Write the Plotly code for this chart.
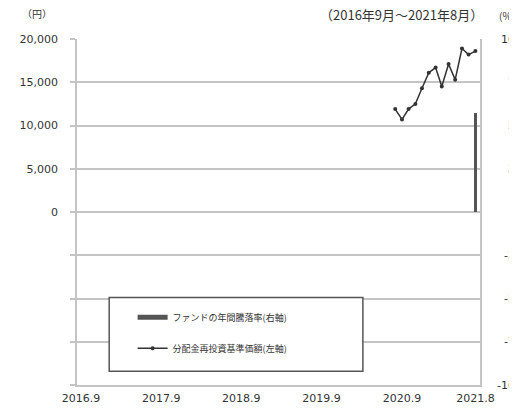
import plotly.graph_objects as go

# ---- data ----
months = ["2020-08-01", "2020-09-01", "2020-10-01", "2020-11-01", "2020-12-01",
          "2021-01-01", "2021-02-01", "2021-03-01", "2021-04-01", "2021-05-01",
          "2021-06-01", "2021-07-01", "2021-08-01"]
nav_reinvested = [11900, 10700, 11900, 12500, 14300, 16100, 16700, 14500,
                  17100, 15300, 18900, 18200, 18600]
bar_dates = ["2021-08-01"]
annual_return = [57]

x_tick_vals = ["2016-09-01", "2017-09-01", "2018-09-01", "2019-09-01", "2020-09-01", "2021-08-01"]
x_tick_text = ["2016.9", "2017.9", "2018.9", "2019.9", "2020.9", "2021.8"]
left_tick_vals = [20000, 15000, 10000, 5000, 0, -5000, -10000, -15000, -20000]
left_tick_text = ["20,000", "15,000", "10,000", "5,000", "0", "", "", "", ""]
right_tick_vals = [100, 75, 50, 25, 0, -25, -50, -75, -100]

name_bar = "ファンドの年間騰落率(右軸)"
name_line = "分配金再投資基準価額(左軸)"

FONT = "DejaVu Sans, Noto Sans CJK JP, sans-serif"
JFONT = "Noto Sans CJK JP, DejaVu Sans, sans-serif"
TXT = "#333333"
GRID = "#c4c4c4"

fig = go.Figure()

fig.add_trace(go.Bar(
    x=bar_dates, y=annual_return, yaxis="y2",
    width=13 * 24 * 3600 * 1000,
    marker=dict(color="#555555", line=dict(width=0)),
    showlegend=False, name=name_bar,
))
# legend proxy for the bar series
fig.add_trace(go.Scatter(
    x=[None], y=[None], mode="lines", name=name_bar,
    line=dict(color="#555555", width=5), legendgroup="a",
))
fig.add_trace(go.Scatter(
    x=months, y=nav_reinvested, mode="lines+markers", name=name_line,
    line=dict(color="#333333", width=1.5),
    marker=dict(size=4, color="#333333"), legendgroup="b",
))

annotations = []
for v in right_tick_vals:
    annotations.append(dict(
        x=1.108, xref="paper", y=v, yref="y2", text=str(v),
        showarrow=False, xanchor="right", yanchor="middle",
        font=dict(family=FONT, size=11, color=TXT)))

annotations += [
    dict(x=-0.141, xref="paper", y=1.047, yref="paper", text="（円）", showarrow=False,
         xanchor="left", yanchor="bottom", font=dict(family=JFONT, size=10, color=TXT)),
    dict(x=1.012, xref="paper", y=1.038, yref="paper", text="（2016年9月～2021年8月）",
         showarrow=False, xanchor="right", yanchor="bottom",
         font=dict(family=JFONT, size=13, color=TXT)),
    dict(x=1.041, xref="paper", y=1.041, yref="paper", text="(%)", showarrow=False,
         xanchor="left", yanchor="bottom", font=dict(family=JFONT, size=10, color=TXT)),
    dict(x=-0.16, xref="paper", y=1.086, yref="paper", text="【設定来の基準価額の推移】",
         showarrow=False, xanchor="left", yanchor="bottom",
         font=dict(family=JFONT, size=14, color="#222222")),
]

fig.update_layout(
    width=509, height=409,
    margin=dict(l=59, r=37, t=31, b=26),
    paper_bgcolor="white", plot_bgcolor="white",
    font=dict(family=FONT, size=11, color=TXT),
    bargap=0,
    xaxis=dict(
        type="date", range=["2016-08-14", "2021-08-22"],
        tickvals=x_tick_vals, ticktext=x_tick_text,
        showgrid=False, zeroline=False,
        showline=True, linecolor=GRID, linewidth=1.5, mirror=False,
        ticks="", ticklabelstandoff=2,
        tickfont=dict(family=FONT, size=11, color=TXT),
    ),
    yaxis=dict(
        range=[-20000, 20000], tickvals=left_tick_vals, ticktext=left_tick_text,
        showgrid=True, gridcolor=GRID, gridwidth=1.5, zeroline=False,
        showline=True, linecolor=GRID, linewidth=1.5,
        ticks="outside", ticklen=5, tickcolor=GRID, tickwidth=1.5,
        ticklabelstandoff=10,
        tickfont=dict(family=FONT, size=11, color=TXT),
    ),
    yaxis2=dict(
        range=[-100, 100], overlaying="y", side="right",
        showgrid=False, zeroline=False, showticklabels=False,
        showline=True, linecolor=GRID, linewidth=1.5, ticks="",
    ),
    shapes=[dict(type="rect", xref="paper", yref="paper",
                 x0=0.0799, x1=0.7094, y0=0.0398, y1=0.2528,
                 line=dict(color="#555555", width=1.5), fillcolor="white", layer="above")],
    legend=dict(
        x=0.138, y=0.238, xanchor="left", yanchor="top",
        bgcolor="rgba(0,0,0,0)", borderwidth=0,
        font=dict(family=JFONT, size=9, color=TXT),
        traceorder="grouped", tracegroupgap=12, itemwidth=30,
    ),
    annotations=annotations,
)

fig.write_html("out.html")
